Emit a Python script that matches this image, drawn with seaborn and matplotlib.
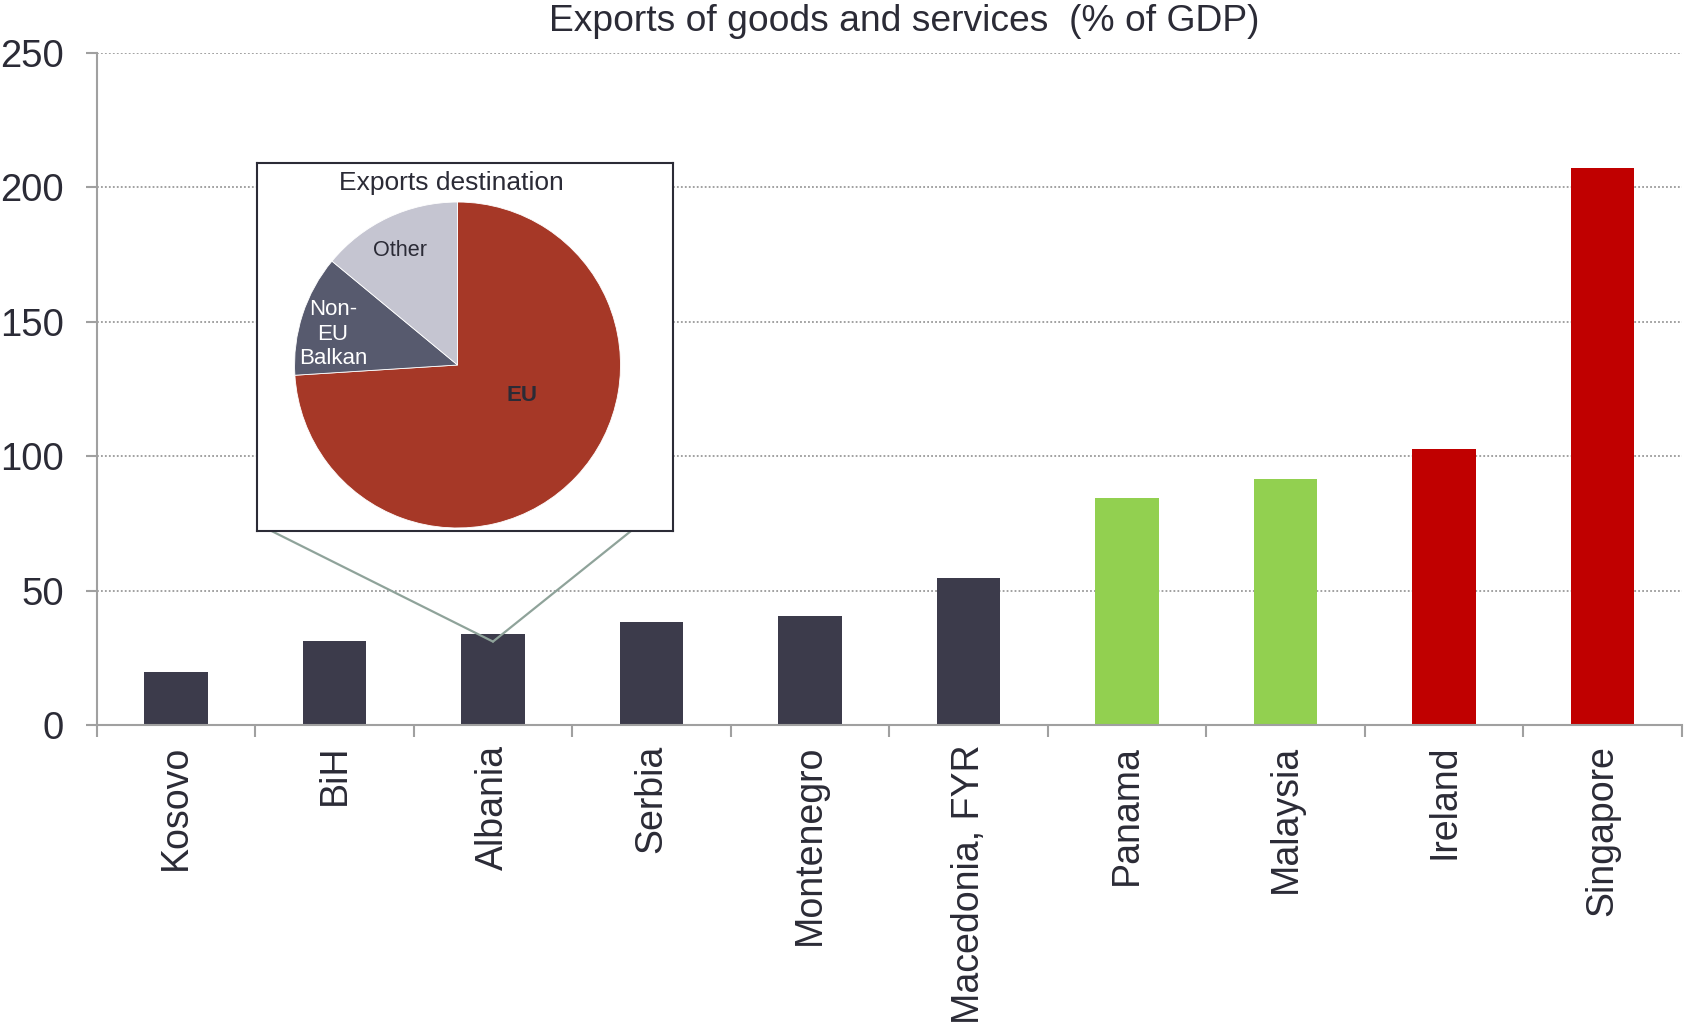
import matplotlib
matplotlib.use("Agg")
import matplotlib.pyplot as plt
import seaborn as sns
import pandas as pd
import numpy as np
from matplotlib.patches import ConnectionPatch

# Exports of goods and services, % of GDP
countries = ["Kosovo", "BiH", "Albania", "Serbia", "Montenegro",
             "Macedonia, FYR", "Panama", "Malaysia", "Ireland", "Singapore"]
exports_pct_gdp = [19.8, 31.3, 33.7, 38.3, 40.4, 54.7, 84.4, 91.5, 102.7, 207.2]
country_group = ["Western Balkans"] * 6 + ["Comparator"] * 2 + ["Benchmark"] * 2

# Destination of exports (shares, %)
dest_labels = ["EU", "Non-\nEU\nBalkan", "Other"]
dest_shares = [74, 12, 14]

group_colors = {"Western Balkans": "#3c3b4b", "Comparator": "#92d050", "Benchmark": "#c00000"}
dest_colors = ["#a63827", "#575a6e", "#c5c5d1"]
TEXT = "#2b2b36"
AXIS_GREY = "#a0a0a0"

sns.set_style("white")
plt.rcParams["font.family"] = ["Liberation Sans", "DejaVu Sans"]

df = pd.DataFrame({"country": countries, "value": exports_pct_gdp, "group": country_group})

fig = plt.figure(figsize=(16.84, 10.25), dpi=100)
ax = fig.add_axes([0.0574, 0.2927, 0.9414, 0.6560])

sns.barplot(data=df, x="country", y="value", hue="group", palette=group_colors,
            dodge=False, width=0.4, saturation=1, linewidth=0, legend=False, ax=ax)

ax.set_xlim(-0.5, len(countries) - 0.5)
ax.set_ylim(0, 250)
ax.set_yticks(np.arange(0, 251, 50))
ax.set_xlabel("")
ax.set_ylabel("")

# category separators on the x axis
ax.set_xticks(np.arange(-0.5, len(countries), 1), minor=True)
ax.tick_params(axis="x", which="major", length=0, pad=14.3, labelsize=27,
               labelrotation=90, labelcolor=TEXT)
ax.tick_params(axis="x", which="minor", length=8.5, width=1.5, color=AXIS_GREY,
               direction="out", bottom=True)
ax.tick_params(axis="y", which="major", length=8, width=1.5, color=AXIS_GREY,
               pad=15.8, labelsize=27.5, labelcolor=TEXT, left=True)

for side in ("top", "right"):
    ax.spines[side].set_visible(False)
for side in ("left", "bottom"):
    ax.spines[side].set_color(AXIS_GREY)
    ax.spines[side].set_linewidth(1.5)

ax.yaxis.grid(True, linestyle=(0, (1, 1.2)), color="#9a9a9a", linewidth=1.3)
ax.xaxis.grid(False)
ax.set_axisbelow(True)

fig.text(0.537, 0.979, "Exports of goods and services  (% of GDP)",
         ha="center", va="center", fontsize=26.8, color=TEXT)

# inset frame with the destination breakdown
box_ax = fig.add_axes([0.1524, 0.4824, 0.2475, 0.3585])
box_ax.set_zorder(3)
box_ax.set_facecolor("white")
box_ax.set_xticks([])
box_ax.set_yticks([])
for sp in box_ax.spines.values():
    sp.set_color(TEXT)
    sp.set_linewidth(1.5)
box_ax.text(0.4677, 0.9467, "Exports destination", transform=box_ax.transAxes,
            ha="center", va="center", fontsize=19, color=TEXT)

pie_ax = fig.add_axes([0.1749, 0.4849, 0.1936, 0.318])
pie_ax.set_zorder(4)
pie_ax.pie(dest_shares, colors=dest_colors, startangle=90, counterclock=False,
           wedgeprops=dict(linewidth=0.6, edgecolor="white"))
pie_ax.set_xlim(-1, 1)
pie_ax.set_ylim(-1, 1)
pie_ax.set_aspect("equal")
pie_ax.axis("off")
pie_ax.text(0.396, -0.19, dest_labels[0], ha="center", va="center",
            fontsize=16, fontweight="bold", color=TEXT)
pie_ax.text(-0.764, 0.19, dest_labels[1], ha="center", va="center",
            fontsize=16, color="white", linespacing=1.2)
pie_ax.text(-0.356, 0.70, dest_labels[2], ha="center", va="center",
            fontsize=15.6, color=TEXT)

# callout lines from the inset down to Albania
albania = countries.index("Albania")
for xa in (0.0335, 0.8995):
    con = ConnectionPatch(xyA=(xa, 0), coordsA=box_ax.transAxes,
                          xyB=(albania, 31), coordsB=ax.transData,
                          color="#8fa39a", linewidth=1.6)
    con.set_zorder(2)
    fig.add_artist(con)

fig.savefig("out.png", dpi=100)
